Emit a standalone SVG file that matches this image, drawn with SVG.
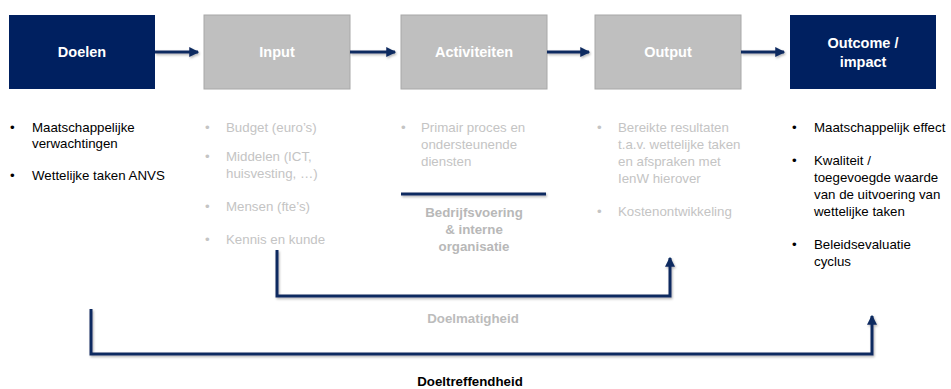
<svg xmlns="http://www.w3.org/2000/svg" width="951" height="389" viewBox="0 0 951 389">
<defs>
<marker id="ah" markerWidth="10" markerHeight="10" refX="7" refY="4" orient="auto" markerUnits="userSpaceOnUse" viewBox="0 0 8 8">
<path d="M0,0 L8,4 L0,8 Z" fill="#0f2a60"/>
</marker>
<filter id="sh" filterUnits="userSpaceOnUse" x="0" y="0" width="951" height="389">
<feDropShadow dx="1" dy="1.5" stdDeviation="1" flood-color="#000" flood-opacity="0.3"/>
</filter>
</defs>
<style>
.navy{fill:#002060;}
.grey{fill:#bfbfbf;stroke:#a8a8a8;stroke-width:1;}
.title{font-family:"Liberation Sans",Arial,sans-serif;font-weight:bold;font-size:14.5px;fill:#fff;text-anchor:middle;}
.t{font-family:"Liberation Sans",Arial,sans-serif;font-size:13.3px;}
.dark{fill:#000;}
.light{fill:#c4c4c4;}
.lbl{font-family:"Liberation Sans",Arial,sans-serif;font-size:13.3px;font-weight:bold;text-anchor:middle;}
.conn{fill:none;stroke:#0f2a60;stroke-width:3;filter:url(#sh);}
</style>

<g id="doelen">
<rect class="navy" x="9" y="15" width="146" height="74"/>
<text class="title" x="82" y="57">Doelen</text>
<g class="t dark">
<text x="10" y="132">•</text><text x="32" y="132">Maatschappelijke</text>
<text x="32" y="148">verwachtingen</text>
<text x="10" y="180">•</text><text x="32" y="180">Wettelijke taken ANVS</text>
</g>
</g>

<g id="input">
<rect class="grey" x="204" y="15" width="146" height="74"/>
<text class="title" x="277" y="57">Input</text>
<g class="t light">
<text x="205" y="132">•</text><text x="226" y="132">Budget (euro’s)</text>
<text x="205" y="161">•</text><text x="226" y="161">Middelen (ICT,</text>
<text x="226" y="178">huisvesting, …)</text>
<text x="205" y="211">•</text><text x="226" y="211">Mensen (fte’s)</text>
<text x="205" y="244">•</text><text x="226" y="244">Kennis en kunde</text>
</g>
</g>

<g id="activiteiten">
<rect class="grey" x="401" y="15" width="146" height="74"/>
<text class="title" x="474" y="57">Activiteiten</text>
<g class="t light">
<text x="401" y="132">•</text><text x="421" y="132">Primair proces en</text>
<text x="421" y="149">ondersteunende</text>
<text x="421" y="166">diensten</text>
</g>
<line class="conn" x1="401" y1="194" x2="546" y2="194"/>
<g class="lbl">
<text x="474" y="217" style="fill:#b8b8b8">Bedrijfsvoering</text>
<text x="474" y="234" style="fill:#b8b8b8">&amp; interne</text>
<text x="474" y="251" style="fill:#b8b8b8">organisatie</text>
</g>
</g>

<g id="output">
<rect class="grey" x="595" y="15" width="146" height="74"/>
<text class="title" x="668" y="57">Output</text>
<g class="t light">
<text x="597" y="132">•</text><text x="618" y="132">Bereikte resultaten</text>
<text x="618" y="149">t.a.v. wettelijke taken</text>
<text x="618" y="166">en afspraken met</text>
<text x="618" y="183">IenW hierover</text>
<text x="597" y="216">•</text><text x="618" y="216">Kostenontwikkeling</text>
</g>
</g>

<g id="outcome">
<rect class="navy" x="790" y="15" width="146" height="74"/>
<text class="title" x="863" y="48">Outcome /</text>
<text class="title" x="863" y="67">impact</text>
<g class="t dark">
<text x="792" y="132">•</text><text x="814" y="132">Maatschappelijk effect</text>
<text x="792" y="165">•</text><text x="814" y="165">Kwaliteit /</text>
<text x="814" y="182">toegevoegde waarde</text>
<text x="814" y="199">van de uitvoering van</text>
<text x="814" y="216">wettelijke taken</text>
<text x="792" y="249">•</text><text x="814" y="249">Beleidsevaluatie</text>
<text x="814" y="266">cyclus</text>
</g>
</g>

<g id="connectors">
<line class="conn" x1="155" y1="52" x2="198" y2="52" marker-end="url(#ah)"/>
<line class="conn" x1="350" y1="52" x2="395" y2="52" marker-end="url(#ah)"/>
<line class="conn" x1="547" y1="52" x2="589" y2="52" marker-end="url(#ah)"/>
<line class="conn" x1="741" y1="52" x2="784" y2="52" marker-end="url(#ah)"/>
<polyline class="conn" points="277,250 277,296 670,296 670,258" marker-end="url(#ah)"/>
<polyline class="conn" points="91,309 91,354 872,354 872,316" marker-end="url(#ah)"/>
<text class="lbl" x="473" y="323" style="fill:#bcbcbc">Doelmatigheid</text>
<text class="lbl" x="470" y="386" style="fill:#000">Doeltreffendheid</text>
</g>
</svg>
